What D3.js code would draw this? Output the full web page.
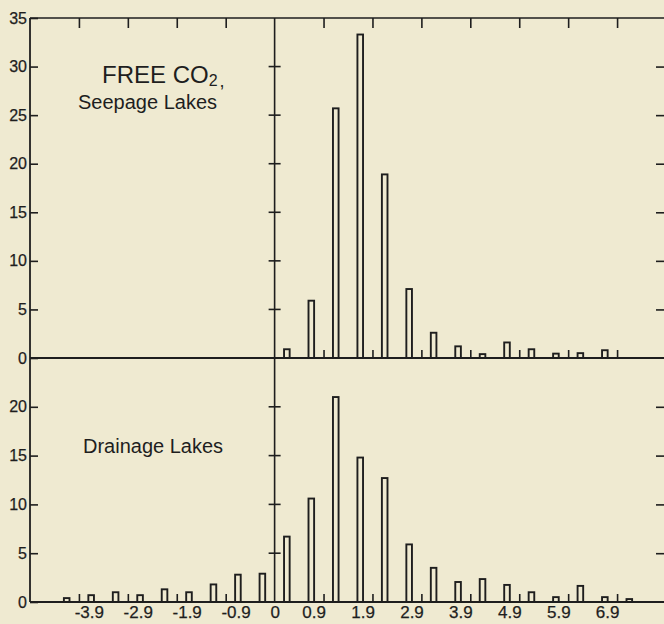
<!DOCTYPE html>
<html>
<head>
<meta charset="utf-8">
<script src="https://cdnjs.cloudflare.com/ajax/libs/d3/7.8.5/d3.min.js"></script>
<style>
  body { margin: 0; background: #efead1; }
  .chart svg { display: block; }
  .chart text { font-family: "Liberation Sans", Arial, sans-serif; fill: #1e1e1e; }
</style>
</head>
<body>
<div class="chart"></div>
<script>
// Class midpoints (ppm free CO2) and number of lakes in each class
var seepageBins = [0.25, 0.75, 1.25, 1.75, 2.25, 2.75, 3.25, 3.75, 4.25, 4.75, 5.25, 5.75, 6.25, 6.75];
var seepageCounts = [0.9, 5.9, 25.7, 33.3, 18.9, 7.1, 2.6, 1.2, 0.4, 1.6, 0.9, 0.45, 0.5, 0.8];

var drainageBins = [-4.25, -3.75, -3.25, -2.75, -2.25, -1.75, -1.25, -0.75, -0.25,
  0.25, 0.75, 1.25, 1.75, 2.25, 2.75, 3.25, 3.75, 4.25, 4.75, 5.25, 5.75, 6.25, 6.75, 7.25];
var drainageCounts = [0.4, 0.7, 1.0, 0.7, 1.3, 1.0, 1.8, 2.8, 2.9,
  6.7, 10.6, 21.0, 14.8, 12.7, 5.9, 3.5, 2.05, 2.35, 1.75, 1.0, 0.5, 1.65, 0.5, 0.3];

// Tick values
var xTickLabels = [-3.9, -2.9, -1.9, -0.9, 0, 0.9, 1.9, 2.9, 3.9, 4.9, 5.9, 6.9];
var unitTicks = [-4, -3, -2, -1, 1, 2, 3, 4, 5, 6, 7];
var seepageYTicks = [0, 5, 10, 15, 20, 25, 30, 35];
var drainageYTicks = [0, 5, 10, 15, 20];

var svgWidth = 664;
var svgHeight = 624;
var ink = "#1e1e1e";
var paper = "#efead1";

var svg = d3.select(".chart")
  .append("svg")
  .attr("width", svgWidth)
  .attr("height", svgHeight);

svg.append("rect")
  .attr("width", svgWidth).attr("height", svgHeight)
  .attr("fill", paper);

// Scales: one x scale, one y scale per panel
var x = d3.scaleLinear().domain([-5, 8]).range([30, 666]);
var yTop = d3.scaleLinear().domain([0, 35]).range([358, 18]);
var yBot = d3.scaleLinear().domain([0, 25]).range([602, 358]);

function line(x1, y1, x2, y2, w) {
  svg.append("line")
    .attr("x1", x1).attr("y1", y1).attr("x2", x2).attr("y2", y2)
    .attr("stroke", ink).attr("stroke-width", w || 1.6);
}

// Frame
line(x(-5), yTop(35), x(8), yTop(35), 1.5);
line(x(-5), yTop(0), x(8), yTop(0), 1.8);
line(x(-5), yBot(0), x(8), yBot(0), 1.8);
line(x(-5), yTop(35), x(-5), yBot(0), 1.8);
line(x(0), yTop(35), x(0), yBot(0), 1.6);
line(x(8), yTop(35), x(8), yBot(0), 1.6);

function styleAxis(g) {
  g.select(".domain").remove();
  g.selectAll("line").attr("stroke", ink).attr("stroke-width", 1.6);
  g.selectAll("text").attr("font-size", 16).attr("fill", ink)
    .attr("stroke", ink).attr("stroke-width", 0.25);
}

// Left axes with inward ticks
svg.append("g")
  .attr("transform", "translate(" + x(-5) + ",0)")
  .call(d3.axisLeft(yTop).tickValues(seepageYTicks).tickSize(-8).tickPadding(3))
  .call(styleAxis);
svg.append("g")
  .attr("transform", "translate(" + x(-5) + ",0)")
  .call(d3.axisLeft(yBot).tickValues(drainageYTicks).tickSize(-8).tickPadding(3))
  .call(styleAxis);

// Right axes, ticks only
svg.append("g")
  .attr("transform", "translate(" + x(8) + ",0)")
  .call(d3.axisRight(yTop).tickValues(seepageYTicks.slice(1, -1)).tickSize(-10).tickFormat(""))
  .call(styleAxis);
svg.append("g")
  .attr("transform", "translate(" + x(8) + ",0)")
  .call(d3.axisRight(yBot).tickValues(drainageYTicks.slice(1)).tickSize(-10).tickFormat(""))
  .call(styleAxis);

// Ticks crossing the zero line
svg.selectAll(".zeroTickTop")
  .data(seepageYTicks.slice(1, -1))
  .enter().append("line")
  .attr("x1", x(0) - 6).attr("x2", x(0) + 6)
  .attr("y1", function(d) { return yTop(d); })
  .attr("y2", function(d) { return yTop(d); })
  .attr("stroke", ink).attr("stroke-width", 1.6);
svg.selectAll(".zeroTickBot")
  .data(drainageYTicks.slice(1))
  .enter().append("line")
  .attr("x1", x(0) - 6).attr("x2", x(0) + 6)
  .attr("y1", function(d) { return yBot(d); })
  .attr("y2", function(d) { return yBot(d); })
  .attr("stroke", ink).attr("stroke-width", 1.6);

// Ticks hanging from the top border
svg.append("g")
  .attr("transform", "translate(0," + yTop(35) + ")")
  .call(d3.axisTop(x).tickValues(unitTicks).tickSize(-10).tickFormat(""))
  .call(styleAxis);

// Small ticks standing on each baseline
svg.append("g")
  .attr("transform", "translate(0," + yTop(0) + ")")
  .call(d3.axisBottom(x).tickValues(unitTicks.filter(function(d) { return d > 0; }))
    .tickSize(-8).tickFormat(""))
  .call(styleAxis);
svg.append("g")
  .attr("transform", "translate(0," + yBot(0) + ")")
  .call(d3.axisBottom(x).tickValues(unitTicks).tickSize(-8).tickFormat(""))
  .call(styleAxis);

// Class-limit labels under the bottom panel
svg.append("g")
  .attr("transform", "translate(0," + yBot(0) + ")")
  .call(d3.axisBottom(x).tickValues(xTickLabels).tickSize(0).tickPadding(4)
    .tickFormat(function(d) { return d === 0 ? "0" : (d < 0 ? "-" : "") + Math.abs(d).toFixed(1); }))
  .call(styleAxis)
  .selectAll("text")
  .attr("font-size", 17)
  .attr("dx", function(d) { return d < 0 ? 5 : (d > 0 ? -5 : 0); });

// Bars: open rectangles
function drawBars(bins, counts, y) {
  svg.append("g").selectAll("rect")
    .data(bins.map(function(b, i) { return {bin: b, count: counts[i]}; }))
    .enter().append("rect")
    .attr("x", function(d) { return x(d.bin) - 2.8; })
    .attr("width", 5.6)
    .attr("y", function(d) { return y(d.count); })
    .attr("height", function(d) { return y(0) - y(d.count); })
    .attr("fill", "none")
    .attr("stroke", ink)
    .attr("stroke-width", 1.9);
}
drawBars(seepageBins, seepageCounts, yTop);
drawBars(drainageBins, drainageCounts, yBot);

// Panel titles
var title = svg.append("text")
  .attr("x", 102).attr("y", 83)
  .attr("font-size", 24);
title.append("tspan").text("FREE CO");
title.append("tspan").attr("font-size", 16).attr("dy", 3).text("2");
title.append("tspan").attr("font-size", 18).attr("dx", 2).attr("dy", 1).text(",");

svg.append("text")
  .attr("x", 78).attr("y", 109)
  .attr("font-size", 20)
  .text("Seepage Lakes");

svg.append("text")
  .attr("x", 83).attr("y", 453)
  .attr("font-size", 20)
  .text("Drainage Lakes");
</script>
</body>
</html>
